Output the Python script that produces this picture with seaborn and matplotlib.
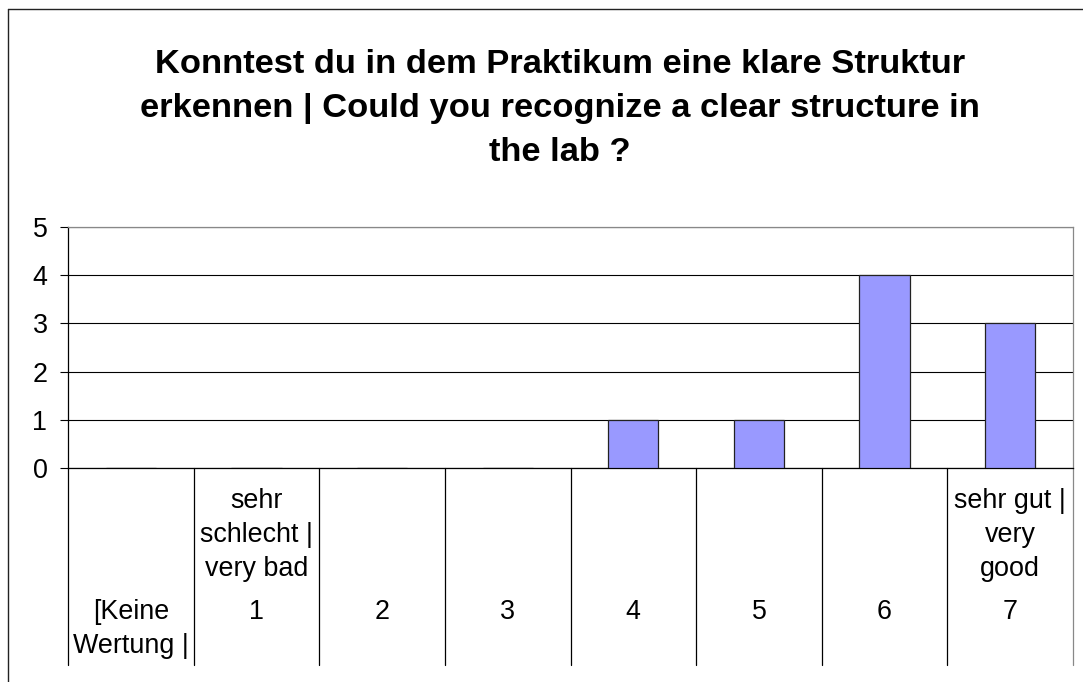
import matplotlib
matplotlib.use("Agg")
import matplotlib.pyplot as plt
import matplotlib.transforms as mtransforms
from matplotlib.lines import Line2D
import seaborn as sns
import pandas as pd

# ---- data ----
categories = ["[Keine Wertung |", "1", "2", "3", "4", "5", "6", "7"]
counts = [0, 0, 0, 0, 1, 1, 4, 3]
number_labels = ["", "1", "2", "3", "4", "5", "6", "7"]
descriptor_labels = {1: "sehr\nschlecht |\nvery bad", 7: "sehr gut |\nvery\ngood"}
keine_label = "[Keine\nWertung |"
title = ("Konntest du in dem Praktikum eine klare Struktur\n"
         "erkennen | Could you recognize a clear structure in\n"
         "the lab ?")
y_ticks = [0, 1, 2, 3, 4, 5]

df = pd.DataFrame({"category": categories, "count": counts})

sns.set_theme(style="white")
plt.rcParams["font.family"] = ["Liberation Sans", "DejaVu Sans"]

W, H, DPI = 1083, 682, 100
fig = plt.figure(figsize=(W / DPI, H / DPI), dpi=DPI)
fig.patch.set_facecolor("white")

LFS = 19.4  # label font size

# axes in pixel geometry
L, R, T, B = 68, 1073, 227, 468
ax = fig.add_axes([L / W, (H - B) / H, (R - L) / W, (B - T) / H])

sns.barplot(data=df, x="category", y="count", order=categories, color="#9999FF",
            edgecolor="#222222", linewidth=0.9, width=0.4, saturation=1, ax=ax, zorder=3)

ax.set_xlim(-0.5, len(categories) - 0.5)
ax.set_ylim(0, 5)
ax.set_yticks(y_ticks)
ax.set_yticklabels([str(v) for v in y_ticks], fontsize=LFS, color="black")
ax.set_xticks([])
ax.set_xlabel("")
ax.set_ylabel("")
ax.yaxis.grid(True, color="black", linewidth=0.8, zorder=0)
ax.set_axisbelow(True)
ax.tick_params(axis="y", which="major", left=True, length=5.8, width=0.8,
               color="black", pad=9, direction="out")

for s in ["top", "right"]:
    ax.spines[s].set_color("#888888")
    ax.spines[s].set_linewidth(0.9)
for s in ["left", "bottom"]:
    ax.spines[s].set_color("black")
    ax.spines[s].set_linewidth(0.9)

# category separator lines below the axis
ax_h = B - T
def yax(py):
    return (B - py) / ax_h

trans = mtransforms.blended_transform_factory(ax.transData, ax.transAxes)
sep_bottom = yax(665)
for i in range(len(categories) + 1):
    x = i - 0.5
    col = "#888888" if i == len(categories) else "black"
    ax.add_line(Line2D([x, x], [0, sep_bottom], transform=trans, color=col,
                       linewidth=0.9, clip_on=False))

# category labels
for i, lab in enumerate(number_labels):
    if lab:
        ax.text(i, yax(612), lab, transform=trans, ha="center", va="center",
                fontsize=LFS, color="black")
for i, lab in descriptor_labels.items():
    ax.text(i, yax(535), lab, transform=trans, ha="center", va="center",
            fontsize=LFS, color="black", linespacing=1.41, multialignment="center")
ax.text(0, yax(629), keine_label, transform=trans, ha="center", va="center",
        fontsize=LFS, color="black", linespacing=1.41, multialignment="center")

# title
fig.text(560 / W, 1 - 108.5 / H, title, ha="center", va="center", fontsize=24.8,
         fontweight="bold", color="black", linespacing=1.56, multialignment="center")

# outer chart border (left & top)
fig.add_artist(Line2D([8 / W, 8 / W], [0, 1 - 9 / H], transform=fig.transFigure,
                      color="#222222", linewidth=1.0))
fig.add_artist(Line2D([8 / W, 1], [1 - 9 / H, 1 - 9 / H], transform=fig.transFigure,
                      color="#222222", linewidth=1.0))

fig.savefig("out.png", dpi=DPI, facecolor="white")
